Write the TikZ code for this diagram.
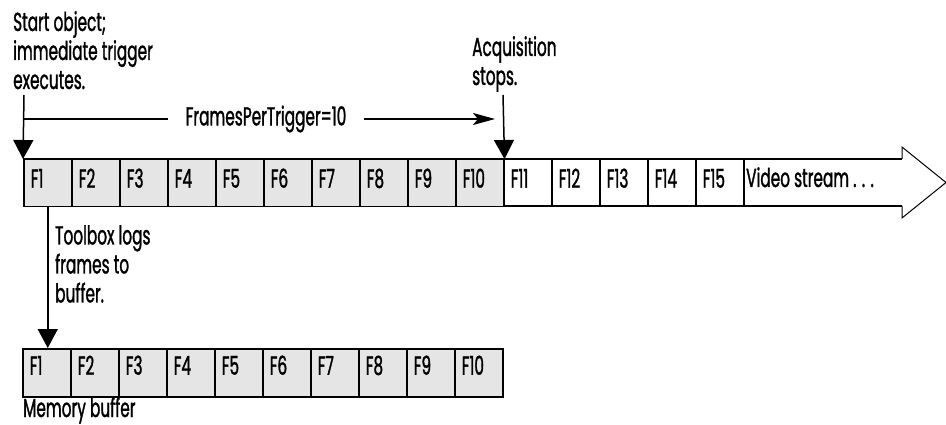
\documentclass[tikz,border=0pt]{standalone}
\usepackage{fontspec}
\setmainfont{Poppins}[FakeStretch=0.59, FakeBold=1.2]
\usepackage{tikz}
\usetikzlibrary{arrows.meta}

\tikzset{
  frame/.style={draw, line width=1.5pt, anchor=north west, minimum width=48pt, minimum height=47pt,
    text width=34pt, align=left, inner xsep=7pt, inner ysep=0pt, text height=17pt, text depth=8pt},
  logged/.style={frame, fill=gray!20},
  buffered/.style={logged, minimum height=48pt, text depth=13pt},
  note/.style={align=left, inner sep=0pt, anchor=north west},
  feed/.style={line width=1.5pt, -{Triangle[width=20pt,length=19pt]}},
}

\begin{document}
\begin{tikzpicture}[x=1pt, y=-1pt, font=\fontsize{26}{29}\selectfont]
        \useasboundingbox (0,0) rectangle (946,425);
        \fill [white] (23,159) -- (902,159) -- (902,147) -- (946,182.5) -- (902,218) -- (902,206) -- (23,206) -- cycle;
        \draw [line width=1.5pt] (23,159) -- (902,159);                          %stream top
        \draw [line width=1.5pt] (23,206) -- (902,206);                          %stream bottom
        \draw [line width=1pt] (902,159) -- (902,147) -- (946,182.5) -- (902,218) -- (902,206); %head

        \node [logged] (t1)  at (23,159)  {F1};                                  %logged frames
        \node [logged] (t2)  at (71,159)  {F2};                                  %
        \node [logged] (t3)  at (119,159) {F3};                                  %
        \node [logged] (t4)  at (167,159) {F4};                                  %
        \node [logged] (t5)  at (215,159) {F5};                                  %
        \node [logged] (t6)  at (263,159) {F6};                                  %
        \node [logged] (t7)  at (311,159) {F7};                                  %
        \node [logged] (t8)  at (359,159) {F8};                                  %
        \node [logged] (t9)  at (407,159) {F9};                                  %
        \node [logged] (t10) at (455,159) {F10};                                 %
        \node [frame]  (t11) at (503,159) {F11};                                 %later frames
        \node [frame]  (t12) at (551,159) {F12};                                 %
        \node [frame]  (t13) at (599,159) {F13};                                 %
        \node [frame]  (t14) at (647,159) {F14};                                 %
        \node [frame]  (t15) at (695,159) {F15};                                 %
        \node [anchor=base west, inner sep=0pt] (video) at (746,187) {Video stream . . .};

        \node [note] (start) at (13,11)  {Start object;\\immediate trigger\\executes.};
        \coordinate (go) at (24,95);                                             %
        \draw [feed] (go) -- (t1.north west);                                    %
        \coordinate (count) at (24,119);                                         %
        \node [inner xsep=17pt, inner ysep=0pt] (fpt) at (266,119) {FramesPerTrigger=10};
        \draw [line width=1.5pt] (count) -- (count -| fpt.west);                 %
        \coordinate (last) at (495,119);                                         %
        \draw [line width=1.5pt, -{Stealth[length=22pt,width=12pt,inset=5pt]}] (count -| fpt.east) -- (last);

        \node [note] (acq) at (472,36)  {Acquisition\\stops.};
        \coordinate (stop) at (503,95);                                          %
        \draw [feed] (stop) -- (t10.north east);                                 %

        \node [buffered] (m1)  at (22,348)  {F1};                                %memory buffer
        \node [buffered] (m2)  at (70,348)  {F2};                                %
        \node [buffered] (m3)  at (118,348) {F3};                                %
        \node [buffered] (m4)  at (166,348) {F4};                                %
        \node [buffered] (m5)  at (214,348) {F5};                                %
        \node [buffered] (m6)  at (262,348) {F6};                                %
        \node [buffered] (m7)  at (310,348) {F7};                                %
        \node [buffered] (m8)  at (358,348) {F8};                                %
        \node [buffered] (m9)  at (406,348) {F9};                                %
        \node [buffered] (m10) at (454,348) {F10};                               %
        \node [anchor=base west, inner sep=0pt] (mem) at (23,417) {Memory buffer};

        \node [note] (logs) at (55,225) {Toolbox logs\\frames to\\buffer.};
        \draw [feed] (t1.south) -- (t1.south |- m1.north);                       %
      \end{tikzpicture}
\end{document}
